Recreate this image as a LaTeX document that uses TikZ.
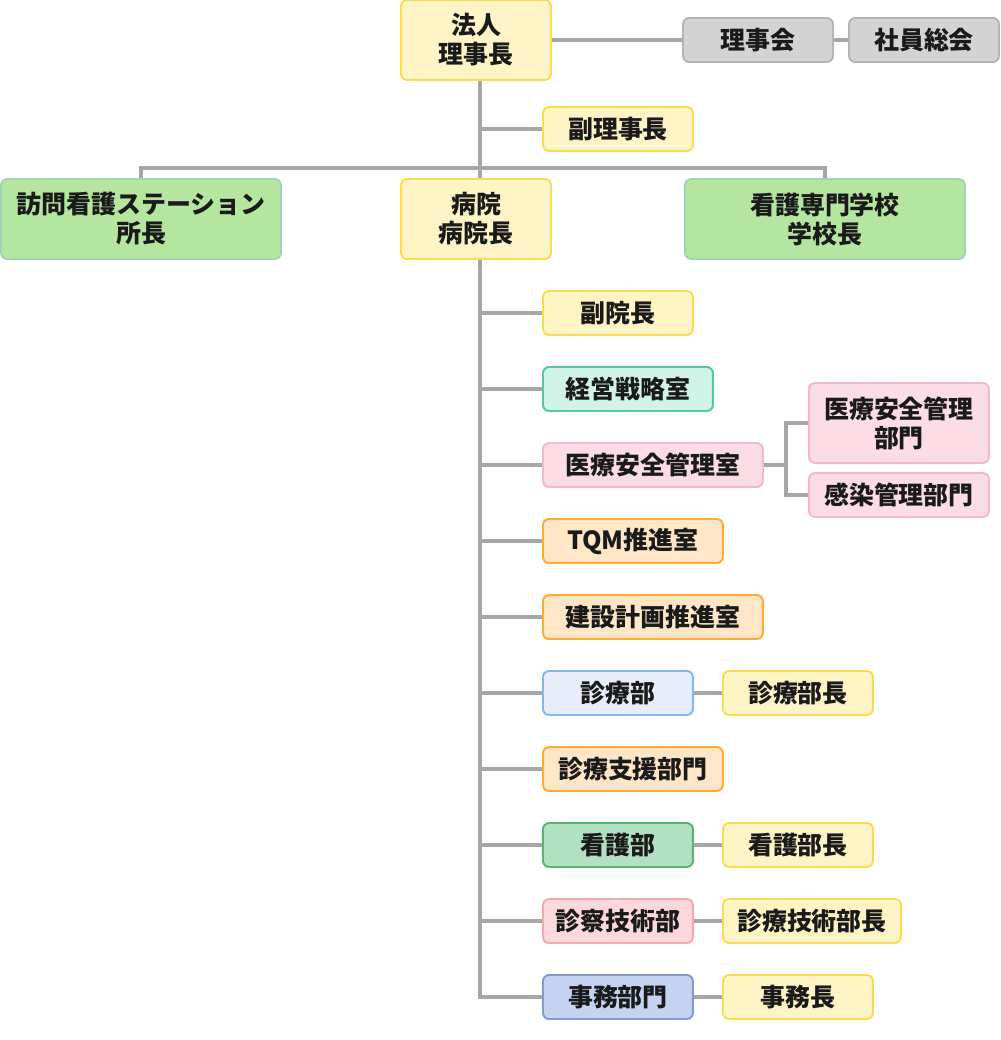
\documentclass[tikz,border=0pt]{standalone}
\usepackage{fontspec}
\setmainfont{Noto Sans CJK JP}
\definecolor{ylwfill}{HTML}{FFF4C6}
\definecolor{ylwline}{HTML}{FCDB52}
\definecolor{grayfill}{HTML}{D3D3D3}
\definecolor{grayline}{HTML}{B5B5B5}
\definecolor{lgrnfill}{HTML}{B4E6A0}
\definecolor{lgrnline}{HTML}{A3D4B4}
\definecolor{mintfill}{HTML}{D2F3E8}
\definecolor{mintline}{HTML}{52C9A2}
\definecolor{pinkfill}{HTML}{FDDDE5}
\definecolor{pinkline}{HTML}{F2B8CB}
\definecolor{orgfill}{HTML}{FFE6C6}
\definecolor{orgline}{HTML}{FFAA33}
\definecolor{bluefill}{HTML}{E8EEF9}
\definecolor{blueline}{HTML}{7CB9F5}
\definecolor{grnfill}{HTML}{B2E0C2}
\definecolor{grnline}{HTML}{52B86E}
\definecolor{redfill}{HTML}{FDD9DD}
\definecolor{redline}{HTML}{F8A7AE}
\definecolor{navyfill}{HTML}{C3D3F0}
\definecolor{navyline}{HTML}{7E99D6}
\definecolor{linkgray}{HTML}{A6A6A6}
\definecolor{inkblack}{HTML}{1A1A1A}
\tikzset{
  box/.style={rounded corners=3.5pt, line width=1.1pt, align=center, inner sep=0pt,
    minimum width=3cm, minimum height=0.88cm, text=inkblack,
    font=\bfseries\fontsize{14.2}{16.5}\selectfont},
  tall/.style={minimum height=1.6cm},
  ylwbox/.style={box, draw=ylwline, fill=ylwfill},
  graybox/.style={box, draw=grayline, fill=grayfill},
  lgrnbox/.style={box, draw=lgrnline, fill=lgrnfill},
  mintbox/.style={box, draw=mintline, fill=mintfill},
  pinkbox/.style={box, draw=pinkline, fill=pinkfill},
  orgbox/.style={box, draw=orgline, fill=orgfill},
  bluebox/.style={box, draw=blueline, fill=bluefill},
  grnbox/.style={box, draw=grnline, fill=grnfill},
  redbox/.style={box, draw=redline, fill=redfill},
  navybox/.style={box, draw=navyline, fill=navyfill},
  link/.style={draw=linkgray, line width=2.2pt}
}
\begin{document}
\begin{tikzpicture}[x=0.02cm, y=-0.02cm]
  \useasboundingbox (0,0) rectangle (1000,1040);
  \coordinate (t) at (480,0);
  \coordinate (bar) at (480,168);
  \coordinate (fork) at (786,0);

  \node[ylwbox, tall] (hojin) at (476,40) {法人\\理事長};
  \node[graybox] (rijikai) at (758,40) {理事会};
  \node[graybox] (shain) at (924,40) {社員総会};
  \node[ylwbox] (fukuriji) at (618,129) {副理事長};

  \node[lgrnbox, tall, minimum width=5.6cm] (homon) at (141,219) {訪問看護ステーション\\所長};
  \node[ylwbox, tall] (byouin) at (476,219) {病院\\病院長};
  \node[lgrnbox, tall, minimum width=5.6cm] (gakko) at (825,219) {看護専門学校\\学校長};

  \node[ylwbox, anchor=west] (fukuin) at (542,313) {副院長};
  \node[mintbox, anchor=west, minimum width=3.4cm] (keiei) at (542,389) {経営戦略室};
  \node[pinkbox, anchor=west, minimum width=4.4cm] (anzen) at (542,465) {医療安全管理室};
  \node[pinkbox, anchor=west, tall, minimum width=3.6cm] (anzenbu) at (808,423) {医療安全管理\\部門};
  \node[pinkbox, anchor=west, minimum width=3.6cm] (kansen) at (808,495) {感染管理部門};
  \node[orgbox, anchor=west, minimum width=3.6cm] (tqm) at (542,541) {TQM推進室};
  \node[orgbox, anchor=west, minimum width=4.4cm] (kensetsu) at (542,617) {建設計画推進室};
  \node[bluebox, anchor=west] (shinryo) at (542,693) {診療部};
  \node[ylwbox, anchor=west] (shinryocho) at (722,693) {診療部長};
  \node[orgbox, anchor=west, minimum width=3.6cm] (shien) at (542,769) {診療支援部門};
  \node[grnbox, anchor=west] (kango) at (542,845) {看護部};
  \node[ylwbox, anchor=west] (kangocho) at (722,845) {看護部長};
  \node[redbox, anchor=west] (gijutsu) at (542,921) {診察技術部};
  \node[ylwbox, anchor=west, minimum width=3.56cm] (gijutsucho) at (722,921) {診療技術部長};
  \node[navybox, anchor=west] (jimu) at (542,997) {事務部門};
  \node[ylwbox, anchor=west] (jimucho) at (722,997) {事務長};

  \draw[link] (hojin) -- (rijikai);
  \draw[link] (rijikai) -- (shain);
  \draw[link] (t |- hojin.south) -- (t |- byouin.north);
  \draw[link] (t |- fukuriji) -- (fukuriji);
  \draw[link] (homon.north) |- (bar) -| (gakko.north);
  \draw[link] (t |- byouin.south) -- (t |- jimu) -- (jimu);
  \foreach \n in {fukuin,keiei,anzen,tqm,kensetsu,shinryo,shien,kango,gijutsu}
    \draw[link] (t |- \n) -- (\n);
  \draw[link] (anzen) -- (fork |- anzen);
  \draw[link] (anzenbu) -- (fork |- anzenbu) -- (fork |- kansen) -- (kansen);
  \draw[link] (shinryo) -- (shinryocho);
  \draw[link] (kango) -- (kangocho);
  \draw[link] (gijutsu) -- (gijutsucho);
  \draw[link] (jimu) -- (jimucho);
\end{tikzpicture}
\end{document}
